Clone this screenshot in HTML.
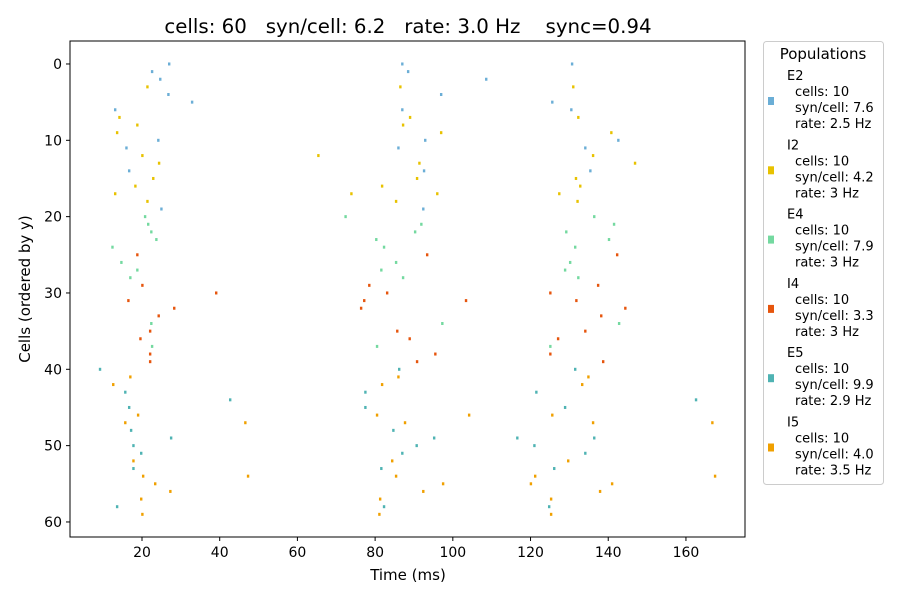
<!DOCTYPE html>
<html><head><meta charset="utf-8"><style>
body{margin:0;background:#fff;font-family:"Liberation Sans","DejaVu Sans",sans-serif}
svg text{font-family:"DejaVu Sans","Liberation Sans",sans-serif}
</style></head><body>
<svg id="chart" width="900" height="600" viewBox="0 0 900 600">
<text x="408" y="33" text-anchor="middle" font-size="19.8" xml:space="preserve">cells: 60   syn/cell: 6.2   rate: 3.0 Hz    sync=0.94</text>
<g id="marks"></g>
<rect x="70" y="41" width="675" height="496" fill="none" stroke="#000" stroke-width="1"/>
<g id="axes"></g>
<text x="408" y="580" text-anchor="middle" font-size="15">Time (ms)</text>
<text transform="translate(30,289) rotate(-90)" text-anchor="middle" font-size="15">Cells (ordered by y)</text>
<g>
<rect x="763.5" y="41.5" width="120" height="443" rx="3" fill="#fff" stroke="#ccc"/>
<text x="823" y="59" text-anchor="middle" font-size="15">Populations</text>
<g id="legend"></g>
</g>
</svg>
<script>
const NS="http://www.w3.org/2000/svg";
const popNames=["E2","I2","E4","I4","E5","I5"];
const popColors=["#6baed6","#e8c200","#74d9a0","#e6550d","#4fb3b3","#f0a000"];
const popCells=[10,10,10,10,10,10];
const popSyn=["7.6","4.2","7.9","3.3","9.9","4.0"];
const popRate=["2.5","3","3","3","2.9","3.5"];
const xTicks=[20,40,60,80,100,120,140,160];
const yTicks=[0,10,20,30,40,50,60];
// spikes: time (ms), cell index, population index
const spikeTimes=[27.0,22.6,24.7,26.8,32.9,13.1,24.2,16.0,16.7,25.0,
21.4,14.2,18.8,13.6,20.1,24.4,22.9,18.3,13.1,21.4,
20.8,21.6,22.4,23.7,12.4,14.7,18.8,17.0,22.4,22.6,
18.8,20.1,39.1,16.5,28.3,24.3,22.1,19.6,22.1,22.1,
9.2,15.7,42.7,16.7,17.2,27.5,17.8,19.8,17.8,13.6,
17.0,12.6,19.0,15.7,46.6,17.8,20.3,47.3,23.4,27.3,19.8,20.1,
87.0,88.5,108.6,97.0,87.0,92.9,86.0,92.6,92.4,
86.5,89.0,87.2,97.0,65.4,91.4,90.8,81.8,73.9,96.0,85.4,
72.4,91.9,90.3,80.3,82.3,85.4,81.6,87.2,97.3,80.5,
93.4,78.5,83.1,77.2,103.4,76.4,85.7,88.9,95.5,90.8,
86.2,77.5,77.5,84.7,95.2,90.7,87.0,81.6,82.3,
86.0,81.8,80.5,104.2,87.7,84.4,85.4,97.5,92.4,81.3,81.1,
130.7,125.6,130.5,142.6,134.1,135.4,
131.0,132.3,140.8,136.1,146.9,131.7,132.8,127.4,132.1,
136.4,141.5,129.2,140.2,131.5,130.2,128.9,132.3,142.8,125.1,
142.3,137.4,125.1,131.8,144.4,138.2,134.1,127.1,125.1,138.7,
131.5,121.5,162.6,128.9,116.6,136.4,121.0,134.1,126.1,124.8,
134.9,133.3,125.6,166.8,136.1,129.7,121.2,167.5,120.1,141.0,137.9,125.3,125.3];
const spikeCells=[0,1,2,4,5,6,10,11,14,19,
3,7,8,9,12,13,15,16,17,18,
20,21,22,23,24,26,27,28,34,37,
25,29,30,31,32,33,35,36,38,39,
40,43,44,45,48,49,50,51,53,58,
41,42,46,47,47,52,54,54,55,56,57,59,
0,1,2,4,6,10,11,14,19,
3,7,8,9,12,13,15,16,17,17,18,
20,21,22,23,24,26,27,28,34,37,
25,29,30,31,31,32,35,36,38,39,
40,43,45,48,49,50,51,53,58,
41,42,46,46,47,52,54,55,56,57,59,
0,5,6,10,11,14,
3,7,9,12,13,15,16,17,18,
20,21,22,23,24,26,27,28,34,37,
25,29,30,31,32,33,35,36,38,39,
40,43,44,45,49,49,50,51,53,58,
41,42,46,47,47,52,54,54,55,55,56,57,59];
const spikePops=[0,0,0,0,0,0,0,0,0,0,
1,1,1,1,1,1,1,1,1,1,
2,2,2,2,2,2,2,2,2,2,
3,3,3,3,3,3,3,3,3,3,
4,4,4,4,4,4,4,4,4,4,
5,5,5,5,5,5,5,5,5,5,5,5,
0,0,0,0,0,0,0,0,0,
1,1,1,1,1,1,1,1,1,1,1,
2,2,2,2,2,2,2,2,2,2,
3,3,3,3,3,3,3,3,3,3,
4,4,4,4,4,4,4,4,4,
5,5,5,5,5,5,5,5,5,5,5,
0,0,0,0,0,0,
1,1,1,1,1,1,1,1,1,
2,2,2,2,2,2,2,2,2,2,
3,3,3,3,3,3,3,3,3,3,
4,4,4,4,4,4,4,4,4,4,
5,5,5,5,5,5,5,5,5,5,5,5,5];
const X0=70,X1=745,Y0=41,Y1=537,XMIN=1.47,XMAX=175.2,YMIN=-3.01,YMAX=61.97;
function xs(v){return X0+(v-XMIN)/(XMAX-XMIN)*(X1-X0);}
function ys(v){return Y0+(v-YMIN)/(YMAX-YMIN)*(Y1-Y0);}
const marks=document.getElementById('marks');
for(let i=0;i<spikeTimes.length;i++){
  const r=document.createElementNS(NS,'rect');
  r.setAttribute('x',xs(spikeTimes[i])-1.2);
  r.setAttribute('y',ys(spikeCells[i])-1.5);
  r.setAttribute('width',2.4);r.setAttribute('height',3);
  r.setAttribute('fill',popColors[spikePops[i]]);
  
  
  marks.appendChild(r);
}
const axes=document.getElementById('axes');
function add(tag,attrs,txt){const e=document.createElementNS(NS,tag);for(const k in attrs)e.setAttribute(k,attrs[k]);if(txt!=null)e.textContent=txt;axes.appendChild(e);return e;}
xTicks.forEach(t=>{
  const x=xs(t);
  add('line',{x1:x,x2:x,y1:Y1,y2:Y1+4,stroke:'#000'});
  const e=add('text',{x:x,y:Y1+20,'text-anchor':'middle','font-size':14},t);
  
  
});
yTicks.forEach(t=>{
  const y=ys(t);
  add('line',{x1:X0-4,x2:X0,y1:y,y2:y,stroke:'#000'});
  const e=add('text',{x:X0-8,y:y+5,'text-anchor':'end','font-size':14},t);
  
  
});
const lg=document.getElementById('legend');
popNames.forEach((n,i)=>{
  const base=75+i*69.3;
  const g=document.createElementNS(NS,'g');
  
  
  g.innerHTML=`<rect x="768" y="${base+22}" width="6" height="8" fill="${popColors[i]}"/>`+
  `<text x="787" y="${base+5}" font-size="13">${n}</text>`+
  `<text x="795" y="${base+21}" font-size="13">cells: ${popCells[i]}</text>`+
  `<text x="795" y="${base+37}" font-size="13">syn/cell: ${popSyn[i]}</text>`+
  `<text x="795" y="${base+53}" font-size="13">rate: ${popRate[i]} Hz</text>`;
  lg.appendChild(g);
});
</script>
</body></html>
